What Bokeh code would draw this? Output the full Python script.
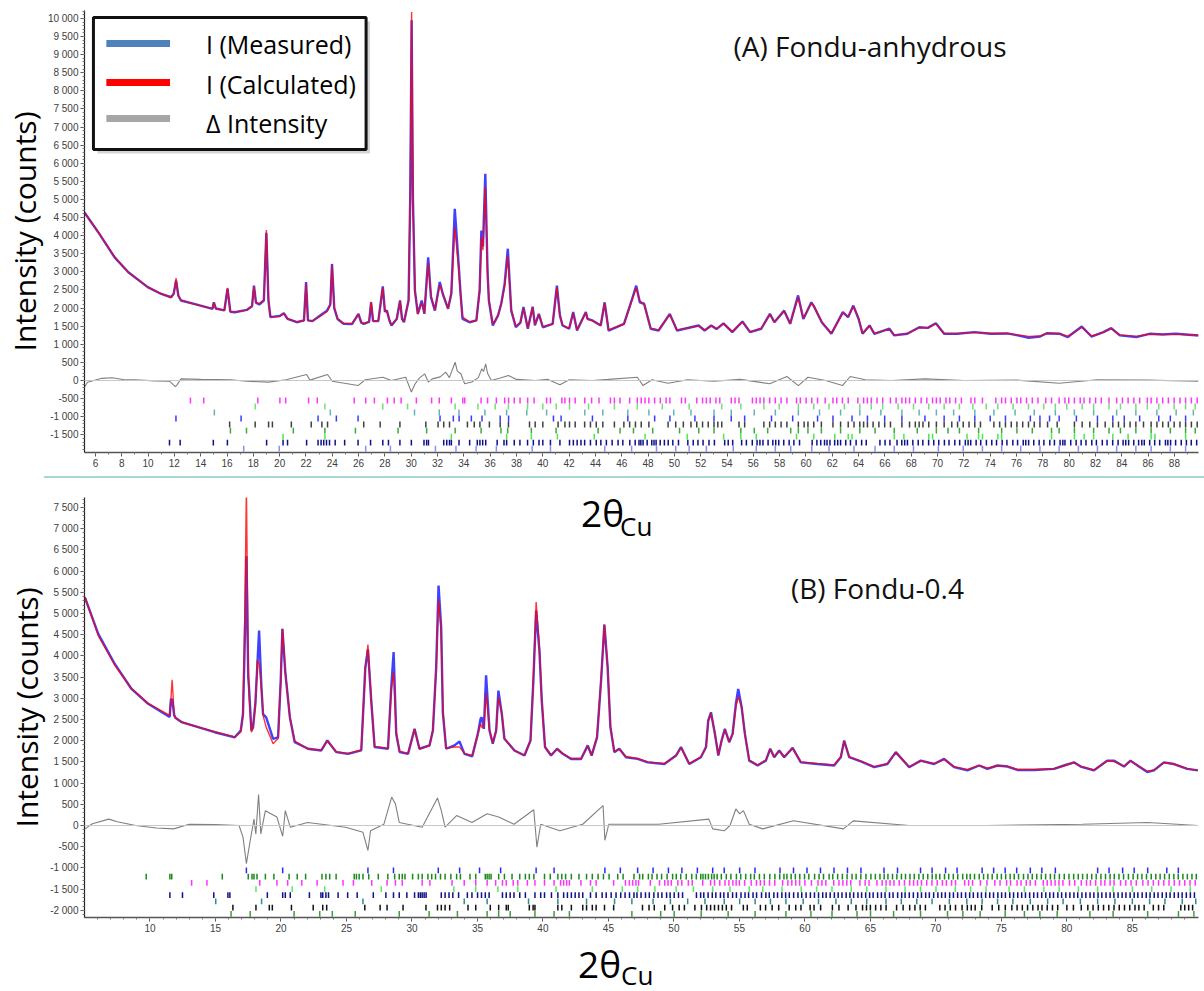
import math
from bokeh.plotting import figure
from bokeh.models import Range1d, FixedTicker, Label, BoxAnnotation, Div, Span
from bokeh.layouts import column
from bokeh.embed import file_html
from bokeh.resources import INLINE

# ---------------- (A) Fondu-anhydrous : pattern ----------------
TOP_X = [5.17, 6.3, 7.46, 8.5, 9.98, 11.0, 11.75, 11.95,
         12.13, 12.3, 12.5, 13.5, 14.9, 15.0, 15.15, 15.8,
         16.04, 16.25, 16.6, 17.5, 17.9, 18.05, 18.2, 18.45,
         18.8, 18.99, 19.15, 19.3, 20.0, 20.32, 20.6, 21.3,
         21.85, 22.01, 22.15, 22.5, 23.1, 23.6, 23.85, 23.98,
         24.15, 24.4, 24.86, 25.5, 25.99, 26.2, 26.4, 26.8,
         26.95, 27.1, 27.5, 27.84, 28.0, 28.15, 28.35, 28.5,
         28.9, 29.15, 29.3, 29.45, 29.8, 29.93, 30.03, 30.13,
         30.28, 30.5, 30.8, 31.0, 31.29, 31.5, 31.8, 32.17,
         32.4, 32.8, 33.05, 33.31, 33.6, 33.75, 33.9, 34.44,
         34.95, 35.2, 35.33, 35.45, 35.63, 35.8, 35.9, 36.2,
         36.6, 36.84, 37.1, 37.34, 37.6, 37.95, 38.3, 38.53,
         38.86, 39.23, 39.4, 39.7, 40.0, 40.75, 41.07, 41.3,
         41.5, 42.0, 42.31, 42.6, 43.27, 43.4, 43.77, 44.4,
         44.7, 45.0, 46.17, 46.75, 47.1, 47.37, 47.7, 48.2,
         48.8, 49.65, 50.2, 51.84, 52.3, 52.8, 53.2, 53.73,
         54.4, 55.17, 55.75, 56.6, 57.26, 57.6, 58.34, 58.8,
         59.4, 59.8, 60.41, 60.6, 61.2, 61.93, 62.8, 63.2,
         63.6, 64.0, 64.3, 64.83, 65.2, 66.34, 66.7, 67.7,
         68.61, 69.25, 69.87, 70.5, 71.5, 72.8, 74.04, 75.3,
         76.1, 76.93, 77.8, 78.3, 79.3, 79.9, 80.96, 81.7,
         82.6, 83.2, 83.85, 85.1, 86.1, 87.1, 88.1, 89.83]
TOP_MEAS = [4640, 4050, 3400, 2990, 2580, 2390, 2300, 2400,
            2760, 2350, 2210, 2115, 1980, 2160, 1990, 1935,
            2540, 1900, 1885, 1950, 2050, 2620, 2150, 2100,
            2210, 4080, 2200, 1750, 1780, 1860, 1700, 1610,
            1660, 2720, 1660, 1640, 1800, 1930, 2100, 3220,
            2000, 1700, 1565, 1560, 1840, 1600, 1565, 1620,
            2160, 1640, 1640, 2600, 1900, 1930, 1650, 1520,
            1700, 2210, 1700, 1610, 2210, 5200, 9950, 5000,
            2490, 1840, 2210, 1840, 3400, 2300, 1930, 2720,
            2390, 1980, 2400, 4740, 3220, 2400, 1700, 1610,
            1660, 2500, 4140, 3700, 5710, 3000, 2210, 1520,
            1800, 2120, 2670, 3640, 1930, 1470, 1600, 2030,
            1430, 2040, 1520, 1840, 1470, 1565, 2620, 1800,
            1520, 1430, 1890, 1380, 1890, 1700, 1660, 1520,
            2160, 1380, 1565, 2210, 2620, 2160, 2120, 1430,
            1380, 1840, 1380, 1520, 1380, 1520, 1420, 1580,
            1335, 1630, 1335, 1430, 1840, 1610, 1930, 1565,
            2350, 1700, 2160, 2050, 1610, 1290, 1890, 1750,
            2070, 1700, 1290, 1520, 1290, 1430, 1245, 1290,
            1470, 1455, 1580, 1290, 1290, 1335, 1290, 1300,
            1245, 1180, 1215, 1305, 1290, 1200, 1490, 1215,
            1335, 1445, 1245, 1200, 1290, 1270, 1290, 1245]
TOP_CALC = [4640, 4060, 3410, 2990, 2575, 2400, 2300, 2380,
            2830, 2330, 2220, 2110, 1985, 2150, 1990, 1935,
            2560, 1905, 1890, 1945, 2060, 2600, 2160, 2120,
            2230, 4160, 2250, 1760, 1770, 1850, 1710, 1620,
            1650, 2680, 1660, 1650, 1780, 1900, 2080, 3180,
            2020, 1710, 1580, 1570, 1830, 1610, 1570, 1630,
            2170, 1650, 1650, 2570, 1910, 1920, 1660, 1530,
            1710, 2200, 1710, 1620, 2230, 5400, 10180, 5100,
            2480, 1830, 2150, 1860, 3250, 2350, 1950, 2650,
            2400, 1990, 2450, 4240, 3100, 2350, 1750, 1620,
            1650, 2450, 3950, 3600, 5350, 3000, 2230, 1560,
            1800, 2110, 2600, 3450, 1960, 1500, 1610, 1990,
            1450, 2020, 1540, 1830, 1490, 1560, 2570, 1790,
            1530, 1440, 1860, 1400, 1880, 1690, 1650, 1530,
            2140, 1400, 1560, 2180, 2560, 2200, 2100, 1440,
            1390, 1820, 1390, 1510, 1390, 1510, 1430, 1570,
            1350, 1620, 1345, 1440, 1820, 1620, 1920, 1570,
            2300, 1720, 2140, 2060, 1620, 1300, 1870, 1760,
            2050, 1710, 1300, 1510, 1300, 1420, 1260, 1295,
            1460, 1450, 1570, 1300, 1295, 1330, 1300, 1300,
            1260, 1220, 1230, 1300, 1290, 1220, 1470, 1230,
            1330, 1430, 1260, 1220, 1285, 1275, 1280, 1250]
TOP_DX = [5.17, 5.4, 6.5, 7.28, 8.2, 9.02, 10.5, 11.63, 12.07, 12.2,
          12.5, 14.0, 16.26, 17.5, 19.16, 20.5, 22.05, 22.3, 23.64, 24.0,
          25.96, 26.5, 27.84, 28.5, 29.58, 30.01, 30.3, 30.6, 31.02, 31.3,
          31.6, 32.2, 32.62, 32.9, 33.34, 33.5, 33.77, 34.06, 34.6, 35.1,
          35.36, 35.5, 35.66, 35.8, 36.09, 36.7, 37.39, 38.0, 39.42, 40.4,
          41.3, 42.0, 43.77, 45.0, 47.18, 47.62, 48.3, 49.52, 51.0, 53.0,
          55.0, 57.24, 58.55, 59.42, 60.15, 61.5, 62.77, 63.36, 64.5, 66.5,
          69.04, 72.0, 76.0, 79.24, 82.15, 86.0, 89.83]
TOP_DY = [-180, -50, 60, 75, 20, 20, -10, -20, -170, -120,
          45, 30, 20, -20, -45, 20, 165, 10, 165, -20,
          -140, 20, 90, 0, 90, -320, -90, 60, 185, -40,
          45, 100, 230, 80, 505, 260, 185, -90, -40, 80,
          320, 250, 460, 200, 0, 60, 140, 30, 0, 30,
          -120, 20, 0, 30, 90, -140, 20, -75, 20, -20,
          30, -90, 110, -140, 90, 0, -140, 110, 20, 0,
          45, 0, 10, -75, 20, 10, -20]

# reflection positions (2theta) of the phases, top panel, one list per row
TOP_PH1 = [13.22, 14.23, 18.34, 20.02, 20.46, 22.2, 22.86, 25.67, 26.54, 27.2, 28.19, 28.71,
           29.23, 30.39, 31.55, 32.13, 33.05, 33.92, 34.07, 35.31, 35.8, 36.47, 37.1, 37.4,
           37.83, 38.27, 38.85, 39.34, 40.29, 40.58, 41.45, 41.68, 42.03, 42.46, 43.19, 43.71,
           44.27, 45.14, 45.44, 45.87, 46.6, 47.18, 47.48, 47.77, 48.06, 48.5, 48.93, 49.37,
           49.66, 50.54, 50.83, 51.7, 52.14, 52.43, 52.72, 53.16, 53.45, 54.32, 54.61, 54.91,
           55.93, 56.22, 56.51, 56.8, 57.24, 57.67, 58.11, 58.55, 59.28, 59.57, 60.01, 60.44,
           60.88, 61.46, 62.05, 62.34, 62.77, 63.21, 63.94, 64.38, 64.67, 64.96, 65.4, 65.83,
           66.42, 66.85, 67.29, 67.58, 67.87, 68.31, 68.75, 69.18, 69.62, 69.91, 70.2, 70.64,
           70.93, 71.37, 71.81, 72.54, 72.83, 73.41, 74.43, 74.87, 75.16, 75.6, 76.03, 76.32,
           76.76, 77.2, 77.63, 78.22, 78.66, 79.24, 79.68, 79.97, 80.4, 80.84, 81.13, 81.57,
           82.01, 82.44, 83.03, 83.61, 84.05, 84.48, 84.92, 85.36, 85.94, 86.23, 86.67, 87.11,
           87.54, 87.98, 88.42, 88.85, 89.29, 89.73]
TOP_PH2 = [18.15, 23.44, 27.84, 29.72, 33.34, 35.07, 36.38, 37.39, 38.84, 40.0, 41.02, 42.03,
           43.48, 45.44, 47.18, 49.08, 51.12, 53.6, 55.05, 56.8, 57.97, 59.42, 60.59, 61.75,
           62.92, 64.09, 64.96, 65.83, 67.0, 68.17, 69.33, 70.5, 71.66, 72.68, 73.7, 74.58,
           75.74, 76.91, 78.07, 78.95, 79.82, 80.99, 81.86, 83.03, 83.9, 85.07, 85.94, 86.81,
           87.98, 88.85, 89.58]
TOP_PH3 = [15.04, 23.85, 30.25, 32.13, 33.63, 35.6, 37.25, 38.78, 40.29, 43.19, 44.56, 46.46,
           48.06, 49.95, 51.26, 53.01, 54.32, 56.07, 57.67, 59.42, 61.03, 62.63, 64.09, 65.69,
           67.29, 68.6, 69.91, 71.22, 72.83, 74.28, 75.89, 77.35, 78.95, 80.4, 81.86, 83.61,
           85.07, 86.67, 88.13, 89.44]
TOP_PH4 = [12.12, 17.07, 22.92, 24.31, 25.96, 32.19, 33.2, 33.64, 34.57, 35.38, 36.76, 37.4,
           40.81, 41.39, 43.77, 46.46, 48.5, 49.66, 51.56, 53.01, 54.32, 55.34, 57.38, 58.99,
           60.88, 62.05, 63.5, 64.67, 65.98, 67.29, 69.04, 70.5, 71.66, 72.83, 74.0, 75.16,
           77.05, 77.78, 78.51, 79.24, 80.55, 82.15, 83.32, 84.19, 85.36, 86.81, 87.69, 88.85]
TOP_PH5 = [16.2, 18.14, 19.16, 19.45, 20.89, 22.4, 23.21, 23.64, 26.39, 27.64, 29.14, 31.11,
           32.04, 32.47, 32.91, 34.27, 34.79, 35.22, 35.94, 36.76, 37.39, 38.99, 39.42, 40.0,
           41.16, 41.68, 42.03, 42.46, 43.18, 43.62, 44.06, 44.56, 45.44, 46.16, 46.6, 47.04,
           47.48, 48.06, 49.52, 50.1, 50.68, 51.26, 51.7, 52.14, 52.57, 53.01, 53.3, 53.6,
           54.91, 55.34, 56.8, 57.24, 57.67, 58.11, 58.55, 59.42, 59.86, 60.15, 60.59, 61.17,
           62.05, 62.63, 63.21, 63.65, 64.09, 64.38, 64.67, 65.1, 65.54, 65.98, 66.42, 67.29,
           67.87, 68.31, 68.6, 68.89, 69.33, 69.91, 70.5, 71.08, 71.52, 71.95, 72.39, 72.83,
           73.26, 74.28, 74.72, 75.16, 75.6, 76.03, 76.47, 76.91, 77.35, 77.78, 78.36, 79.09,
           80.4, 80.99, 81.57, 82.15, 82.74, 83.32, 83.75, 84.19, 84.63, 85.07, 85.65, 86.23,
           86.67, 87.11, 87.54, 87.98, 88.42, 88.85, 89.29, 89.73]
TOP_PH6 = [16.26, 17.48, 21.04, 23.44, 25.76, 29.0, 31.17, 33.34, 35.31, 36.82, 37.33, 39.13,
           41.01, 44.2, 45.87, 46.89, 48.35, 50.39, 51.85, 53.01, 55.05, 56.07, 57.09, 58.84,
           59.42, 60.15, 61.17, 62.63, 64.09, 65.25, 66.71, 68.46, 69.91, 70.79, 71.66, 73.12,
           74.87, 76.03, 77.2, 78.66, 79.24, 80.4, 81.86, 83.03, 83.9, 85.07, 86.23, 87.69,
           88.85, 89.58]
TOP_PH7 = [20.26, 23.44, 33.05, 37.25, 39.13, 41.11, 43.91, 47.77, 50.97, 53.74, 55.05, 56.22,
           59.28, 60.59, 62.19, 63.21, 63.5, 66.71, 67.44, 69.33, 69.62, 72.24, 73.12, 73.41,
           74.58, 74.87, 78.66, 80.4, 81.14, 81.86, 83.32, 84.48, 86.23, 86.52, 88.85]
TOP_PH8 = [11.63, 12.44, 14.96, 16.03, 19.01, 20.26, 20.6, 22.05, 22.92, 23.15, 23.35, 23.56,
           23.79, 24.22, 24.94, 25.96, 26.91, 27.84, 28.27, 29.14, 30.01, 30.97, 31.17, 31.31,
           32.47, 32.7, 32.91, 33.05, 33.63, 34.44, 35.02, 35.22, 35.43, 35.66, 36.53, 37.05,
           37.25, 37.83, 38.26, 38.84, 39.28, 39.71, 40.0, 40.58, 41.3, 42.03, 42.32, 42.61,
           42.9, 43.18, 43.62, 44.06, 44.41, 44.83, 45.27, 45.72, 46.08, 46.61, 47.02, 47.31,
           47.45, 47.62, 47.93, 48.28, 48.45, 48.61, 48.92, 49.24, 49.53, 49.88, 50.31, 51.02,
           51.43, 51.79, 52.18, 52.63, 53.04, 53.82, 54.09, 54.43, 55.11, 55.47, 55.92, 56.28,
           56.5, 56.73, 57.12, 57.48, 57.7, 57.93, 58.31, 58.72, 59.08, 59.51, 60.47, 60.83,
           61.12, 61.41, 61.6, 61.82, 62.18, 62.41, 62.63, 63.02, 63.38, 63.81, 64.23, 64.58,
           65.62, 66.01, 66.38, 66.92, 67.28, 67.5, 67.71, 68.12, 68.53, 68.88, 69.32, 69.71,
           70.09, 70.52, 70.87, 71.31, 71.68, 72.11, 72.32, 72.52, 72.93, 73.28, 73.71, 74.12,
           74.48, 74.91, 75.27, 75.72, 76.08, 76.51, 76.7, 76.92, 77.31, 77.72, 78.08, 78.53,
           78.88, 79.31, 79.52, 79.68, 80.12, 80.53, 80.91, 81.28, 81.72, 82.07, 82.52, 82.88,
           83.31, 83.72, 84.1, 84.3, 84.52, 84.91, 85.28, 85.52, 85.71, 86.12, 86.5, 86.88,
           87.32, 87.5, 87.71, 88.09, 88.52, 88.91, 89.28, 89.69]
TOP_PH9 = [17.27, 19.97, 26.54, 28.42, 31.84, 33.4, 34.93, 36.47, 39.19, 40.58, 44.71, 46.75,
           48.64, 50.1, 51.12, 52.43, 54.47, 56.22, 57.67, 58.84, 60.44, 61.75, 63.65, 65.25,
           66.71, 68.17, 70.06, 71.95, 73.41, 74.87, 76.32, 77.78, 79.24, 80.7, 82.15, 83.61,
           85.07, 86.23, 87.69, 88.85]

# ---------------- (B) Fondu-0.4 ----------------
BOT_X = [5.03, 6.05, 7.31, 8.59, 9.86, 11.13, 11.5, 11.6,
         11.69, 11.85, 11.94, 12.4, 13.68, 14.94, 16.47, 16.93,
         17.1, 17.25, 17.36, 17.5, 17.56, 17.74, 17.87, 18.05,
         18.2, 18.33, 18.5, 18.63, 18.87, 19.4, 19.78, 19.98,
         20.11, 20.34, 20.68, 21.05, 22.07, 23.08, 23.54, 24.22,
         25.12, 26.13, 26.44, 26.64, 26.89, 27.15, 28.17, 28.42,
         28.6, 28.8, 29.06, 29.7, 30.2, 30.57, 31.34, 31.6,
         31.85, 32.03, 32.23, 32.36, 32.61, 33.25, 33.63, 34.01,
         34.6, 35.03, 35.24, 35.33, 35.49, 35.66, 35.92, 36.17,
         36.43, 36.6, 36.86, 37.06, 37.83, 38.59, 39.05, 39.27,
         39.48, 39.73, 39.91, 40.16, 40.62, 41.08, 41.51, 42.15,
         42.91, 43.42, 43.72, 44.13, 44.44, 44.69, 44.94, 45.15,
         45.45, 45.83, 46.34, 47.23, 48.0, 49.27, 50.16, 50.54,
         51.17, 52.06, 52.45, 52.62, 52.83, 53.13, 53.39, 53.64,
         53.89, 54.22, 54.48, 54.73, 54.91, 55.17, 55.42, 55.75,
         56.39, 57.02, 57.35, 57.66, 58.04, 58.42, 59.06, 59.69,
         60.96, 62.23, 62.74, 63.0, 63.38, 64.27, 65.29, 66.3,
         66.94, 67.96, 68.85, 69.86, 70.63, 71.39, 72.41, 73.3,
         73.93, 74.7, 75.46, 76.22, 77.49, 79.02, 79.78, 80.54,
         81.05, 82.07, 83.08, 83.59, 84.36, 84.86, 85.5, 86.14,
         86.65, 87.41, 88.17, 89.19, 90.0]
BOT_MEAS = [5380, 4520, 3810, 3220, 2870, 2630, 2560, 2980,
            2975, 2600, 2540, 2440, 2320, 2200, 2080, 2240,
            2630, 4500, 6350, 3500, 3260, 2240, 2320, 2900,
            3810, 4600, 3300, 2630, 2550, 2045, 2080, 3420,
            4640, 3580, 2550, 1965, 1810, 1770, 2005, 1730,
            1690, 1770, 3730, 4150, 2950, 1850, 1810, 3260,
            4090, 2160, 1730, 1690, 2280, 1810, 1890, 2240,
            3730, 5660, 4680, 2660, 1810, 1890, 1980, 1690,
            1630, 2160, 2520, 2550, 2280, 3540, 2240, 1930,
            2240, 3180, 2630, 2045, 1770, 1650, 2005, 3420,
            5070, 4130, 2950, 1850, 1650, 1810, 1690, 1570,
            1570, 1890, 1650, 2080, 3420, 4740, 3730, 2320,
            1730, 1810, 1610, 1570, 1490, 1450, 1650, 1850,
            1450, 1610, 1850, 2480, 2670, 2160, 1650, 2005,
            2280, 1965, 2160, 2870, 3220, 2790, 2160, 1530,
            1415, 1530, 1810, 1610, 1770, 1610, 1830, 1490,
            1450, 1415, 1610, 2005, 1610, 1510, 1375, 1450,
            1730, 1375, 1530, 1450, 1570, 1375, 1300, 1415,
            1335, 1415, 1390, 1310, 1310, 1335, 1415, 1490,
            1390, 1300, 1530, 1530, 1390, 1530, 1390, 1260,
            1300, 1490, 1450, 1335, 1300]
BOT_CALC = [5390, 4480, 3780, 3230, 2880, 2660, 2600, 3000,
            3436, 2620, 2540, 2440, 2320, 2210, 2090, 2200,
            2600, 5200, 8000, 3800, 3100, 2200, 2300, 2850,
            3900, 3810, 3300, 2600, 2320, 1930, 2050, 3400,
            4640, 3600, 2550, 1990, 1800, 1780, 2000, 1740,
            1700, 1780, 3700, 4270, 2950, 1860, 1820, 3200,
            3620, 2200, 1750, 1700, 2270, 1800, 1880, 2260,
            3700, 5310, 4600, 2700, 1820, 1850, 1850, 1700,
            1650, 2150, 2400, 2320, 2300, 3110, 2250, 1950,
            2230, 3030, 2650, 2050, 1760, 1660, 2000, 3450,
            5270, 4200, 2950, 1840, 1660, 1800, 1700, 1580,
            1580, 1870, 1660, 2100, 3450, 4740, 3750, 2350,
            1740, 1800, 1620, 1580, 1500, 1460, 1640, 1840,
            1460, 1620, 1840, 2450, 2650, 2180, 1660, 2000,
            2260, 1970, 2150, 2800, 3030, 2800, 2150, 1540,
            1430, 1540, 1800, 1620, 1760, 1620, 1820, 1500,
            1460, 1430, 1620, 1990, 1620, 1520, 1390, 1460,
            1720, 1390, 1520, 1460, 1560, 1390, 1320, 1420,
            1350, 1410, 1400, 1320, 1320, 1340, 1410, 1480,
            1400, 1310, 1520, 1510, 1400, 1520, 1400, 1280,
            1310, 1480, 1450, 1340, 1300]
BOT_DX = [5.03, 5.6, 6.85, 7.5, 8.9, 10.5, 11.8, 13.0, 15.0, 16.8,
          17.1, 17.36, 17.65, 17.94, 18.08, 18.29, 18.46, 18.81, 19.69, 20.13,
          20.33, 20.71, 22.03, 24.94, 26.26, 26.64, 26.84, 27.86, 28.45, 28.74,
          29.03, 30.78, 31.95, 32.24, 32.53, 33.41, 34.58, 35.74, 36.62, 37.79,
          39.3, 39.54, 39.83, 41.29, 43.04, 44.59, 44.73, 45.03, 48.85, 52.67,
          52.96, 53.84, 54.28, 54.73, 55.02, 55.31, 55.75, 56.78, 59.13, 62.95,
          63.69, 67.95, 73.83, 81.17, 86.17, 90.0]
BOT_DY = [-80, 40, 150, 90, 0, -60, -80, 30, 20, 0,
          -275, -900, -360, 150, -200, 730, -200, 350, 200, -255,
          350, -40, 70, -40, -160, -590, -125, 30, 670, 510,
          70, -40, 650, 350, -40, 235, 70, 275, 200, 30,
          370, -510, 30, -125, 30, 470, -350, 30, 30, 150,
          -80, -125, 0, 390, 275, 350, 30, -80, 110, -80,
          110, 0, 0, 30, 70, 0]

BOT_PH1 = [17.36, 20.13, 26.64, 28.59, 32.01, 33.64, 35.16, 36.77, 39.48, 40.85, 44.73, 45.91,
           47.23, 48.41, 49.58, 50.61, 51.79, 52.96, 53.84, 55.02, 56.19, 58.1, 59.13, 60.16,
           61.19, 62.22, 63.25, 64.28, 66.04, 67.07, 68.83, 69.71, 70.74, 71.62, 73.53, 74.41,
           75.29, 76.17, 77.21, 78.09, 79.12, 82.35, 83.22, 84.26, 85.14, 86.17, 87.63, 88.51]
BOT_PH2 = [9.71, 11.52, 11.66, 15.52, 17.5, 17.79, 17.94, 18.17, 18.81, 19.46, 20.62, 21.24,
           21.88, 23.13, 23.43, 23.72, 24.21, 25.59, 25.76, 25.97, 26.26, 26.7, 27.43, 28.16,
           28.68, 29.03, 29.26, 29.47, 30.05, 30.49, 30.78, 31.22, 31.51, 31.8, 32.18, 32.53,
           32.97, 33.41, 33.7, 34.43, 34.87, 35.6, 35.74, 35.89, 36.04, 36.62, 37.06, 37.64,
           38.23, 38.66, 38.96, 39.31, 40.12, 40.56, 41.14, 41.44, 41.73, 42.17, 42.75, 43.33,
           43.77, 44.21, 44.62, 45.05, 45.71, 46.12, 46.95, 47.38, 47.62, 48.05, 48.33, 48.71,
           49.06, 49.48, 49.9, 50.18, 50.52, 50.94, 51.36, 51.71, 52.05, 52.22, 52.41, 52.63,
           52.88, 53.07, 53.3, 53.62, 54.0, 54.35, 54.77, 55.1, 55.48, 55.86, 56.14, 56.53,
           56.9, 57.32, 57.71, 58.08, 58.4, 58.63, 58.95, 59.27, 59.61, 59.97, 60.3, 60.74,
           61.08, 61.42, 61.85, 62.13, 62.5, 62.86, 63.22, 63.6, 63.91, 64.27, 64.66, 65.04,
           65.38, 65.73, 66.05, 66.34, 66.69, 67.02, 67.37, 67.68, 68.02, 68.35, 68.7, 69.03,
           69.38, 69.72, 70.01, 70.3, 70.66, 70.98, 71.33, 71.67, 72.05, 72.36, 72.62, 72.95,
           73.31, 73.64, 73.97, 74.3, 74.68, 75.0, 75.33, 75.67, 75.98, 76.31, 76.69, 77.03,
           77.36, 77.7, 78.05, 78.38, 78.74, 79.06, 79.43, 79.8, 80.16, 80.52, 80.87, 81.2,
           81.55, 81.9, 82.24, 82.6, 82.95, 83.3, 83.62, 83.98, 84.33, 84.7, 85.06, 85.4,
           85.73, 86.08, 86.44, 86.79, 87.12, 87.46, 87.82, 88.17, 88.5, 88.86, 89.2, 89.55,
           89.88]
BOT_PH3 = [13.18, 14.35, 18.38, 19.69, 20.51, 21.59, 22.76, 24.74, 25.53, 26.93, 28.1, 28.74,
           29.26, 30.78, 31.37, 33.06, 33.99, 34.87, 35.74, 36.39, 36.91, 37.2, 37.73, 38.08,
           38.81, 39.39, 40.12, 40.85, 41.35, 41.58, 41.81, 42.02, 42.9, 43.63, 44.06, 45.4,
           46.3, 46.6, 46.85, 47.1, 47.3, 48.2, 48.9, 49.3, 49.55, 49.8, 50.3, 50.6,
           51.1, 51.4, 52.2, 52.8, 53.1, 53.5, 53.9, 54.2, 54.5, 54.75, 55.0, 55.4,
           55.9, 56.3, 56.6, 56.9, 57.3, 57.7, 58.3, 58.7, 59.0, 59.3, 59.6, 60.0,
           60.5, 61.0, 61.3, 61.6, 62.2, 62.6, 62.9, 63.2, 63.5, 64.2, 64.6, 64.9,
           65.5, 65.9, 66.2, 66.5, 66.8, 67.2, 67.6, 68.0, 68.3, 68.6, 68.9, 69.3,
           69.7, 70.1, 70.5, 70.8, 71.2, 71.5, 72.2, 72.5, 72.8, 73.4, 73.9, 74.5,
           74.9, 75.4, 75.7, 76.2, 76.5, 76.9, 77.2, 77.6, 78.2, 78.5, 78.8, 79.1,
           79.4, 79.7, 80.2, 80.6, 81.1, 81.5, 81.8, 82.2, 82.6, 82.9, 83.3, 83.6,
           84.1, 84.5, 84.9, 85.3, 85.8, 86.2, 86.6, 87.0, 87.4, 87.8, 88.2, 88.6,
           89.0, 89.4, 89.8]
BOT_PH4 = [18.09, 20.86, 23.34, 27.66, 33.2, 34.87, 36.56, 38.08, 41.0, 43.77, 46.06, 47.23,
           48.55, 50.17, 51.49, 52.96, 54.28, 55.75, 56.78, 58.25, 59.72, 60.9, 62.07, 63.54,
           64.72, 66.19, 67.65, 68.83, 70.01, 71.48, 72.65, 73.83, 75.59, 76.76, 78.24, 79.41,
           80.88, 82.35, 83.53, 85.0, 86.48, 87.95, 89.42]
BOT_PH5 = [11.52, 12.48, 14.87, 15.95, 16.1, 18.96, 20.13, 20.33, 20.71, 22.17, 23.05, 23.19,
           23.43, 23.63, 24.36, 25.09, 25.82, 27.05, 28.01, 28.59, 29.03, 29.61, 30.2, 30.49,
           30.64, 30.78, 30.93, 31.08, 32.24, 32.53, 32.83, 33.12, 33.56, 34.23, 34.58, 35.01,
           35.31, 35.6, 35.89, 36.91, 37.2, 37.5, 37.79, 38.23, 38.66, 39.39, 39.83, 40.12,
           40.65, 41.14, 41.58, 41.87, 42.17, 42.46, 42.75, 43.04, 43.63, 44.06, 44.52, 44.83,
           45.21, 45.58, 45.94, 46.27, 46.61, 46.95, 47.18, 47.49, 47.83, 48.12, 48.47, 48.79,
           49.08, 49.44, 49.71, 50.02, 50.35, 50.66, 51.72, 52.04, 52.28, 52.61, 52.93, 53.2,
           53.55, 53.81, 54.13, 54.48, 54.77, 55.12, 55.43, 55.7, 56.04, 56.31, 56.69, 57.02,
           57.28, 57.63, 57.91, 58.24, 58.53, 58.81, 59.14, 59.47, 59.76, 60.09, 60.42, 60.73,
           61.04, 61.36, 61.62, 61.93, 62.25, 62.54, 62.83, 63.15, 63.44, 63.72, 64.05, 64.33,
           64.64, 64.94, 65.21, 65.55, 65.84, 66.12, 66.46, 66.73, 67.08, 67.39, 67.65, 67.97,
           68.28, 68.61, 68.9, 69.22, 69.5, 69.83, 70.15, 70.44, 70.72, 71.05, 71.34, 71.66,
           71.95, 72.27, 72.58, 72.86, 73.19, 73.48, 73.8, 74.11, 74.4, 74.73, 75.02, 75.31,
           75.64, 75.93, 76.25, 76.55, 76.84, 77.16, 77.47, 77.76, 78.08, 78.39, 78.7, 78.98,
           79.31, 79.6, 79.92, 80.23, 80.54, 80.83, 81.15, 81.45, 81.77, 82.06, 82.38, 82.67,
           82.99, 83.3, 83.59, 83.91, 84.22, 84.51, 84.83, 85.14, 85.42, 85.75, 86.06, 86.35,
           86.67, 86.96, 87.28, 87.59, 87.88, 88.2, 88.51, 88.8, 89.12, 89.43, 89.74]
BOT_PH6 = [15.02, 18.52, 26.26, 33.99, 35.74, 38.9, 41.14, 43.33, 45.47, 46.79, 48.41, 49.73,
           51.05, 52.37, 53.84, 55.02, 56.2, 57.37, 58.55, 59.87, 61.04, 62.37, 63.54, 64.72,
           66.19, 67.36, 68.54, 69.71, 71.03, 72.36, 73.53, 74.71, 75.88, 77.21, 78.53, 79.71,
           81.03, 82.35, 83.67, 85.0, 86.32, 87.49, 88.81, 89.84]
BOT_PH7 = [16.33, 18.09, 19.11, 19.34, 20.8, 22.46, 23.19, 23.49, 26.4, 27.57, 28.1, 29.32,
           31.07, 31.95, 32.24, 32.53, 32.88, 34.28, 34.87, 35.98, 36.62, 37.2, 37.35, 38.96,
           39.25, 39.39, 41.14, 41.44, 42.17, 43.04, 43.33, 43.77, 44.06, 44.7, 45.4, 47.6,
           48.1, 48.5, 49.3, 49.9, 50.4, 50.8, 51.6, 52.1, 52.5, 52.8, 53.1, 53.4,
           53.7, 54.0, 54.4, 55.3, 55.6, 56.6, 57.0, 57.5, 58.0, 58.8, 59.3, 59.7,
           60.4, 60.7, 61.2, 62.1, 62.6, 63.3, 63.9, 64.4, 64.7, 65.0, 65.4, 65.8,
           66.2, 67.0, 67.5, 68.0, 68.4, 68.8, 69.2, 70.3, 70.7, 71.1, 71.5, 72.0,
           72.4, 72.7, 73.0, 73.5, 74.3, 74.8, 75.3, 75.8, 76.2, 76.6, 77.0, 77.4,
           77.8, 78.1, 78.5, 78.9, 79.3, 80.0, 80.5, 81.1, 81.6, 82.0, 82.4, 82.8,
           83.2, 83.6, 84.0, 84.4, 84.8, 85.2, 85.5, 85.9, 86.6, 87.0, 87.4, 88.7,
           89.0, 89.3, 89.6]
BOT_PH8 = [16.19, 17.65, 21.0, 22.96, 23.92, 25.67, 29.03, 31.31, 33.47, 35.74, 36.62, 37.5,
           39.39, 40.85, 42.02, 46.79, 48.99, 50.02, 52.08, 54.14, 56.2, 58.55, 60.46, 62.07,
           63.98, 65.01, 66.77, 68.83, 70.89, 72.06, 73.38, 75.29, 76.76, 77.94, 79.26, 81.76,
           83.53, 86.17, 88.52, 89.7]

TOP_YTICKS = list(range(-1500, 10001, 500))
BOT_YTICKS = list(range(-2000, 7501, 500))
TOP_XTICKS = list(range(6, 89, 2))
BOT_XTICKS = list(range(10, 86, 5))

LEGEND_LABELS = ["I (Measured)", "I (Calculated)", "\u0394 Intensity"]
LEGEND_COLORS = ["#4F81BD", "#FF0000", "#A6A6A6"]

assert len(TOP_X) == len(TOP_MEAS) == len(TOP_CALC)
assert len(BOT_X) == len(BOT_MEAS) == len(BOT_CALC)
assert len(TOP_DX) == len(TOP_DY) and len(BOT_DX) == len(BOT_DY)


def thousands(v):
    s = f"{abs(int(v)):,}".replace(",", " ")
    return ("-" if v < 0 else "") + s


def style_axes(p, xticks, xminor, yticks, yminor):
    p.xaxis.ticker = FixedTicker(ticks=xticks, minor_ticks=xminor)
    p.yaxis.ticker = FixedTicker(ticks=yticks, minor_ticks=yminor)
    p.yaxis.major_label_overrides = {v: thousands(v) for v in yticks}
    for ax in (p.xaxis, p.yaxis):
        ax.major_label_text_font = "Liberation Sans"
        ax.major_label_text_font_size = "10px"
        ax.major_label_text_color = "#404040"
        ax.major_tick_in = 0
        ax.major_tick_out = 4
        ax.minor_tick_in = 0
        ax.minor_tick_out = 2
        ax.major_label_standoff = 2
        ax.major_tick_line_color = "#555555"
        ax.minor_tick_line_color = "#777777"
    p.xaxis.axis_line_color = "#555555"
    p.xaxis.axis_line_width = 1.6
    p.yaxis.axis_line_color = "#222222"
    p.yaxis.axis_line_width = 1.2
    p.yaxis.axis_label = "Intensity (counts)"
    p.yaxis.axis_label_text_font = "Open Sans"
    p.yaxis.axis_label_text_font_size = "30px"
    p.yaxis.axis_label_text_font_style = "normal"
    p.yaxis.axis_label_text_color = "black"
    p.yaxis.axis_label_standoff = 0
    p.xgrid.visible = False
    p.ygrid.visible = False
    p.outline_line_color = None


def draw_pattern(p, xs, meas, calc, dx, dy):
    p.add_layout(Span(location=0, dimension="width", line_color="#C8C8C8", line_width=1))
    p.line(dx, dy, line_color="#808080", line_width=1.1)
    p.line(xs, meas, line_color="#1f1fff", line_width=2.4, line_alpha=0.85)
    p.line(xs, calc, line_color="#ff0000", line_width=1.4, line_alpha=0.8)


def draw_phases(p, rows, colors, top_center, step, half):
    for i, (xs, col) in enumerate(zip(rows, colors)):
        c = top_center - i * step
        p.segment(x0=xs, y0=[c - half] * len(xs), x1=xs, y1=[c + half] * len(xs),
                  line_color=col, line_width=1.5)


# ------------------------------ top figure ------------------------------
p1 = figure(width=1204, height=476, x_range=Range1d(5.17, 89.83), y_range=Range1d(-1989, 10221),
            output_backend="svg", toolbar_location=None,
            min_border_left=83, min_border_right=2, min_border_top=10, min_border_bottom=24)
style_axes(p1, TOP_XTICKS, list(range(5, 90, 1)), TOP_YTICKS, list(range(-1900, 10201, 100)))
draw_pattern(p1, TOP_X, TOP_MEAS, TOP_CALC, TOP_DX, TOP_DY)
draw_phases(p1, [TOP_PH1, TOP_PH2, TOP_PH3, TOP_PH4, TOP_PH5, TOP_PH6, TOP_PH7, TOP_PH8, TOP_PH9],
            ["#ff33ff", "#77dd77", "#66b3b3", "#3a3aff", "#404040", "#3caa3c", "#44ee44", "#10108a", "#8c8cff"],
            -552, 166, 80)

# legend box (drawn by hand, under the glyphs so the sample lines show)
p1.add_layout(BoxAnnotation(left=6.15, right=26.87, top=9917, bottom=6271, level="underlay",
                            fill_color="#888888", fill_alpha=0.35, line_color=None))
p1.add_layout(BoxAnnotation(left=5.85, right=26.57, top=10028, bottom=6381, level="underlay",
                            fill_color="white", fill_alpha=1.0, line_color="#111111",
                            line_alpha=1.0, line_width=3))
for lab, col, ly, ty in zip(LEGEND_LABELS, LEGEND_COLORS, [9309, 8232, 7238], [9282, 8177, 7127]):
    p1.line([6.83, 11.67], [ly, ly], line_color=col, line_width=7)
    p1.add_layout(Label(x=14.4, y=ty, text=lab, text_font="Open Sans", text_font_size="25px",
                        text_color="black", text_align="left", text_baseline="middle"))

p1.add_layout(Label(x=54.49, y=9227, text="(A) Fondu-anhydrous", text_font="Open Sans",
                    text_font_size="28px", text_color="#111111", text_baseline="middle"))

# ------------------------------ separator ------------------------------
sep = Div(text="", width=1160, height=2, margin=(0, 0, 0, 44),
          styles={"background-color": "#a9d6d6"})

# ------------------------------ bottom figure ------------------------------
p2 = figure(width=1204, height=463, x_range=Range1d(5.0, 90.05), y_range=Range1d(-2170, 7736),
            output_backend="svg", toolbar_location=None,
            min_border_left=83, min_border_right=6, min_border_top=19, min_border_bottom=24)
style_axes(p2, BOT_XTICKS, list(range(6, 90, 1)), BOT_YTICKS, list(range(-2100, 7701, 100)))
draw_pattern(p2, BOT_X, BOT_MEAS, BOT_CALC, BOT_DX, BOT_DY)
draw_phases(p2, [BOT_PH1, BOT_PH2, BOT_PH3, BOT_PH4, BOT_PH5, BOT_PH6, BOT_PH7, BOT_PH8],
            ["#2a2aff", "#1a8a1a", "#ff33ff", "#55ee55", "#10108a", "#2a8f8f", "#111111", "#3aa03a"],
            -1060, 146, 68)

p2.add_layout(Label(x=58.93, y=5590, text="(B) Fondu-0.4", text_font="Open Sans",
                    text_font_size="28px", text_color="#111111", text_baseline="middle"))
# x-axis title of the top panel (sits just inside the lower frame so it is not clipped)
p2.add_layout(Label(x=42.91, y=7394, text="2\u03b8", text_font="Open Sans", text_font_size="37px",
                    text_color="black", text_baseline="middle"))
p2.add_layout(Label(x=45.89, y=7075, text="Cu", text_font="Open Sans", text_font_size="26px",
                    text_color="black", text_baseline="middle"))

# ------------------------------ bottom x title ------------------------------
xtitle = Div(text='2\u03b8<span style="font-size:26px; position:relative; top:7px;">Cu</span>',
             width=120, height=44, margin=(4, 0, 0, 578),
             styles={"font-family": "Open Sans", "font-size": "37px", "line-height": "37px",
                     "color": "black", "white-space": "nowrap"})

layout = column(p1, sep, p2, xtitle, spacing=0)
open("out.html", "w").write(file_html(layout, INLINE))
